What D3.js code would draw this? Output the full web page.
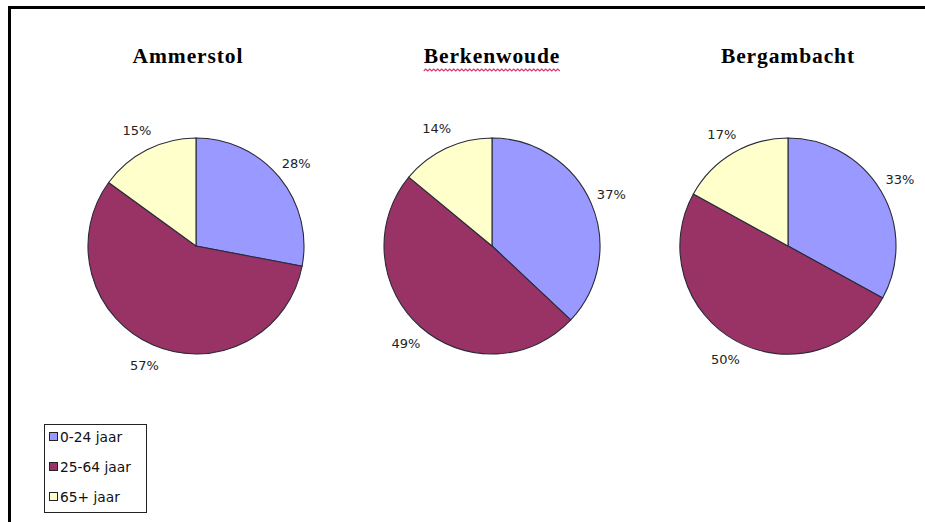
<!DOCTYPE html>
<html>
<head>
<meta charset="utf-8">
<script src="https://cdn.jsdelivr.net/npm/d3@7"></script>
<style>
  html, body { margin: 0; padding: 0; background: #fff; }
  svg { display: block; }
</style>
</head>
<body>
<svg id="chart" width="925" height="522"></svg>
<script>
// ---- data ----
const towns = ["Ammerstol", "Berkenwoude", "Bergambacht"];
const ageGroups = ["0-24 jaar", "25-64 jaar", "65+ jaar"];
const ammerstol = [28, 57, 15];
const berkenwoude = [37, 49, 14];
const bergambacht = [33, 50, 17];
const seriesValues = [ammerstol, berkenwoude, bergambacht];
const colors = ["#9999FF", "#993366", "#FFFFCC"];

const svg = d3.select("#chart");
const W = 925, H = 522;

// frame (left + top visible)
svg.append("rect").attr("x", 0).attr("y", 0).attr("width", W).attr("height", H).attr("fill", "#fff");
svg.append("rect")
  .attr("x", 9.5).attr("y", 7.5)
  .attr("width", W + 20).attr("height", H + 20)
  .attr("fill", "none").attr("stroke", "#000").attr("stroke-width", 3);

const centers = d3.scalePoint().domain(towns).range([196, 788]);
const cy = 246;
const R = 108;
const color = d3.scaleOrdinal().domain(ageGroups).range(colors);

const pie = d3.pie().sort(null).value(d => d.v);
const arc = d3.arc().innerRadius(0).outerRadius(R);
const labelArc = d3.arc().innerRadius(R + 22).outerRadius(R + 22);

towns.forEach((t, i) => {
  const cx = centers(t);
  const data = pie(seriesValues[i].map((v, k) => ({ v, k: ageGroups[k] })));
  const g = svg.append("g").attr("transform", `translate(${cx},${cy})`);
  g.selectAll("path.slice").data(data).enter().append("path")
    .attr("class", "slice")
    .attr("d", arc)
    .attr("fill", d => color(d.data.k))
    .attr("stroke", "#2a2a3a")
    .attr("stroke-width", 1.1);
  g.selectAll("text.lbl").data(data).enter().append("text")
    .attr("class", "lbl")
    .attr("transform", d => `translate(${labelArc.centroid(d)})`)
    .attr("text-anchor", "middle")
    .attr("dominant-baseline", "central")
    .attr("font-family", "'DejaVu Sans', sans-serif")
    .attr("font-size", 13)
    .attr("fill", "#222")
    .text(d => d.data.v + "%");

  // title
  const title = svg.append("text")
    .attr("x", cx - (i === 0 ? 8 : 0))
    .attr("y", 63)
    .attr("text-anchor", "middle")
    .attr("font-family", "'Liberation Serif', 'Times New Roman', serif")
    .attr("font-weight", "bold")
    .attr("font-size", 21.5)
    .attr("letter-spacing", 0.9)
    .attr("fill", "#000")
    .text(t);
  if (t === "Berkenwoude") {
    const bb = title.node().getBBox();
    const x0 = bb.x, x1 = bb.x + bb.width, y0 = 71;
    let d = `M${x0},${y0}`;
    let up = true;
    for (let x = x0 + 2; x <= x1; x += 2) {
      d += ` L${x},${up ? y0 - 2 : y0}`;
      up = !up;
    }
    svg.append("path").attr("d", d).attr("fill", "none")
      .attr("stroke", "#d8336a").attr("stroke-width", 1.1);
  }
});

// legend
const legend = svg.append("g");
legend.append("rect")
  .attr("x", 44.5).attr("y", 424.5).attr("width", 102).attr("height", 88)
  .attr("fill", "#fff").attr("stroke", "#222").attr("stroke-width", 1);
const ly = d3.scalePoint().domain(ageGroups).range([437, 497]);
ageGroups.forEach(a => {
  legend.append("rect")
    .attr("x", 49.5).attr("y", ly(a) - 4.5).attr("width", 8).attr("height", 8)
    .attr("fill", color(a)).attr("stroke", "#222").attr("stroke-width", 1);
  legend.append("text")
    .attr("x", 60).attr("y", ly(a))
    .attr("dominant-baseline", "central")
    .attr("font-family", "'DejaVu Sans', sans-serif")
    .attr("font-size", 13.8)
    .attr("fill", "#111")
    .text(a);
});
</script>
</body>
</html>
